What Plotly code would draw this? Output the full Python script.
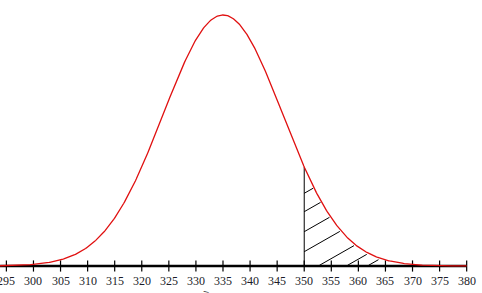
import numpy as np
import plotly.graph_objects as go

# ---- data ----
MEAN = 335
SD = 11
CUTOFF = 350
TICKS = [295, 300, 305, 310, 315, 320, 325, 330, 335, 340, 345, 350, 355, 360, 365, 370, 375, 380]
TICK_LABELS = [str(t) for t in TICKS]
X_START = 293.8
X_END = 380

# ---- styling / geometry constants ----
W, H = 482, 293
XR = [293.82, 382.83]
PEAK = 1.0 / (SD * np.sqrt(2 * np.pi))
PX_Y = PEAK / 251.0          # data units per pixel (y)
PX_X = 5.0 / 27.07           # data units per pixel (x)
YR = [-27 * PX_Y, 266 * PX_Y]

def pdf(x):
    return np.exp(-0.5 * ((x - MEAN) / SD) ** 2) / (SD * np.sqrt(2 * np.pi))

fig = go.Figure()

# axis line
fig.add_trace(go.Scatter(x=[XR[0], X_END], y=[0, 0], mode="lines",
                         line=dict(color="black", width=2.5), hoverinfo="skip"))
# tick marks
fig.add_trace(go.Scatter(x=TICKS, y=[0] * len(TICKS), mode="markers",
                         marker=dict(symbol="line-ns", size=8,
                                     line=dict(color="black", width=1.2)),
                         hoverinfo="skip"))

# hatching inside the tail region
HATCH_OFFSETS_PX = [72.7, 54.3, 34.3, 14.3, -8, -24, -36]
HATCH_SLOPE = 0.57 * PX_Y / PX_X
xs = np.linspace(CUTOFF, X_END, 4000)
for off in HATCH_OFFSETS_PX:
    yl = off * PX_Y + HATCH_SLOPE * (xs - CUTOFF)
    ok = (yl >= 0.6 * PX_Y) & (yl <= pdf(xs) - 2.0 * PX_Y)
    if ok.sum() < 2:
        continue
    idx = np.where(ok)[0]
    x0, x1 = xs[idx[0]], xs[idx[-1]]
    if x1 - x0 < 0.5:
        continue
    fig.add_trace(go.Scatter(x=[x0, x1],
                             y=[off * PX_Y + HATCH_SLOPE * (x0 - CUTOFF),
                                off * PX_Y + HATCH_SLOPE * (x1 - CUTOFF)],
                             mode="lines", line=dict(color="black", width=1),
                             hoverinfo="skip"))

# vertical cutoff line
fig.add_trace(go.Scatter(x=[CUTOFF, CUTOFF], y=[0, pdf(CUTOFF)], mode="lines",
                         line=dict(color="black", width=1), hoverinfo="skip"))

# normal curve
xc = np.linspace(X_START, X_END, 600)
fig.add_trace(go.Scatter(x=xc, y=pdf(xc), mode="lines",
                         line=dict(color="#e01010", width=1.3), hoverinfo="skip"))

# tick labels
for t, lab in zip(TICKS, TICK_LABELS):
    fig.add_annotation(x=t, y=-14.5 * PX_Y, text=lab, showarrow=False,
                       xanchor="center", yanchor="middle",
                       font=dict(family="Liberation Serif", size=12, color="#1c1c28"))

# partially visible label below the axis
fig.add_annotation(x=MEAN - 3.3, y=-21 * PX_Y, text="‾", showarrow=False,
                   xanchor="center", yanchor="top", textangle=12,
                   font=dict(family="DejaVu Sans", size=10, color="#1c1c28"))

fig.update_layout(
    width=W, height=H,
    margin=dict(l=0, r=0, t=0, b=0),
    paper_bgcolor="white", plot_bgcolor="white",
    showlegend=False,
    xaxis=dict(range=XR, visible=False, fixedrange=True),
    yaxis=dict(range=YR, visible=False, fixedrange=True),
)

fig.write_html("out.html")
